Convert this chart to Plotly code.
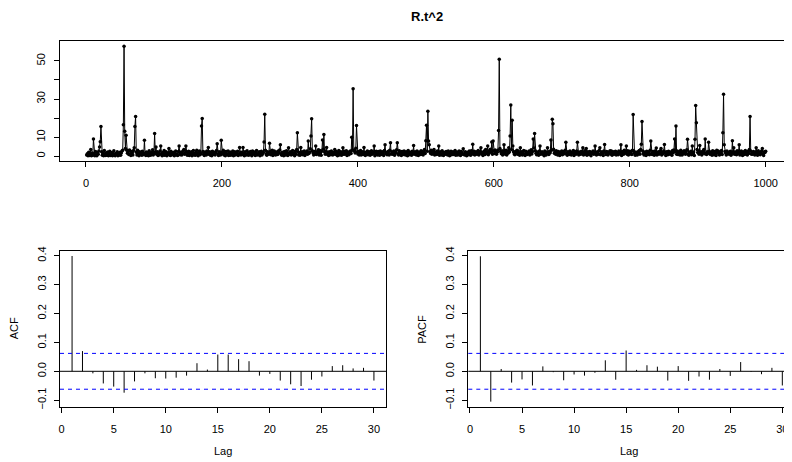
import plotly.graph_objects as go

# the page puts the figure 8px in from the top-left corner, so the figure is
# sized to fill the rest of the 792x462 window
OFF = 8
W, H = 792 - OFF, 462 - OFF

r2_001_100 = [0.5, 1.2, 0.1, 2.0, 0.3, 1.1, 3.5, 0.2, 1.6, 0.4,
              9.0, 1.3, 0.2, 2.4, 0.6, 0.1, 1.8, 0.9, 2.6, 4.8,
              7.5, 15.6, 2.2, 0.4, 1.5, 0.2, 2.9, 0.8, 0.3, 1.7,
              0.6, 2.1, 0.1, 1.0, 2.5, 0.3, 0.7, 1.9, 0.2, 1.2,
              2.8, 0.5, 0.1, 1.4, 0.9, 2.3, 0.2, 1.1, 0.6, 2.0,
              0.4, 1.6, 2.7, 3.0, 16.5, 57.8, 13.0, 4.0, 10.9, 3.0,
              1.5, 2.6, 0.8, 3.2, 1.1, 0.3, 2.4, 1.7, 0.5, 2.9,
              4.4, 15.6, 20.8, 2.0, 0.6, 3.1, 1.2, 0.2, 2.2, 0.9,
              1.8, 0.4, 2.5, 0.7, 1.3, 8.3, 1.0, 0.3, 2.1, 0.5,
              1.6, 0.2, 2.8, 1.1, 0.4, 1.9, 0.8, 3.3, 0.6, 2.0]
r2_101_200 = [11.8, 1.4, 4.8, 0.9, 2.3, 0.3, 1.5, 0.7, 2.6, 5.3,
              1.2, 0.2, 1.8, 0.6, 2.9, 0.4, 1.0, 2.2, 0.1, 1.6,
              0.8, 4.0, 1.3, 0.3, 2.5, 0.5, 1.7, 0.9, 2.0, 0.2,
              1.4, 2.7, 0.6, 1.1, 0.3, 2.4, 5.3, 1.8, 0.7, 2.1,
              0.5, 1.3, 2.8, 3.5, 0.9, 1.6, 5.3, 2.2, 0.4, 1.0,
              2.5, 0.3, 1.7, 0.8, 2.3, 0.1, 1.2, 2.9, 0.6, 1.5,
              0.4, 2.0, 3.1, 1.1, 0.2, 1.8, 2.6, 0.7, 1.4, 15.8,
              19.8, 2.4, 1.0, 0.3, 2.1, 1.5, 0.6, 2.7, 1.2, 4.5,
              0.9, 2.2, 0.4, 1.6, 0.1, 2.5, 0.8, 1.3, 2.0, 0.5,
              1.7, 2.9, 6.5, 1.1, 0.3, 2.3, 1.4, 0.6, 8.3, 2.0]
r2_201_300 = [1.2, 3.0, 0.5, 1.8, 0.2, 2.4, 1.0, 0.7, 2.6, 0.3,
              1.5, 2.1, 0.4, 1.9, 0.8, 2.7, 0.1, 1.3, 2.2, 0.6,
              1.6, 0.9, 2.5, 0.3, 1.1, 4.5, 1.7, 0.5, 2.0, 0.8,
              4.5, 1.4, 0.2, 2.3, 1.0, 0.6, 2.8, 1.2, 0.4, 1.9,
              0.7, 2.4, 1.3, 0.1, 2.6, 0.9, 1.5, 2.1, 0.3, 1.8,
              2.9, 0.5, 1.2, 0.8, 2.2, 0.2, 1.6, 2.5, 0.6, 1.4,
              2.0, 7.4, 22.0, 3.1, 1.1, 0.4, 2.3, 1.7, 0.9, 6.7,
              2.4, 0.7, 1.5, 3.0, 0.3, 1.9, 2.6, 1.0, 0.5, 2.1,
              1.3, 0.8, 2.7, 1.6, 3.2, 6.0, 1.1, 0.4, 2.0, 1.5,
              0.2, 2.4, 1.2, 0.6, 2.8, 1.7, 0.3, 4.4, 1.4, 0.9]
r2_301_400 = [2.2, 0.5, 1.6, 2.9, 0.8, 1.3, 0.2, 2.5, 1.0, 3.4,
              12.3, 2.1, 0.6, 1.8, 0.4, 4.5, 1.1, 2.3, 0.7, 1.5,
              2.7, 0.3, 1.9, 1.2, 2.6, 0.9, 7.9, 1.4, 2.0, 3.8,
              10.6, 19.6, 2.8, 1.6, 0.5, 2.4, 1.1, 5.3, 0.8, 2.2,
              1.3, 3.3, 0.6, 2.9, 1.7, 0.4, 2.5, 8.5, 3.6, 11.3,
              2.1, 1.0, 2.7, 4.5, 0.9, 1.9, 0.3, 2.3, 1.4, 0.7,
              2.6, 1.2, 0.5, 2.0, 1.6, 3.5, 0.8, 2.4, 1.1, 0.2,
              1.8, 2.9, 0.6, 1.3, 2.2, 0.4, 1.7, 4.4, 1.0, 2.5,
              0.9, 1.5, 2.8, 0.3, 1.2, 2.1, 0.7, 1.9, 2.6, 1.4,
              9.9, 3.2, 35.4, 2.7, 3.0, 1.6, 4.1, 16.1, 2.3, 1.1]
r2_401_500 = [2.4, 0.6, 1.8, 2.9, 0.5, 1.3, 2.2, 0.8, 4.5, 1.5,
              0.3, 2.0, 1.1, 2.6, 0.7, 1.7, 2.3, 0.4, 1.4, 2.8,
              0.9, 1.6, 2.1, 5.3, 0.2, 1.9, 2.5, 1.0, 0.6, 2.4,
              1.2, 0.4, 2.7, 1.5, 0.8, 2.2, 1.8, 0.3, 2.9, 6.0,
              1.3, 2.0, 0.7, 1.6, 2.5, 0.5, 3.1, 7.0, 1.1, 2.3,
              0.9, 1.7, 2.6, 0.4, 1.4, 2.1, 3.3, 7.0, 1.2, 0.6,
              2.8, 1.0, 1.9, 0.3, 2.4, 1.5, 0.8, 2.7, 1.3, 0.5,
              2.2, 1.6, 0.2, 2.9, 1.1, 0.7, 2.0, 1.8, 0.4, 2.5,
              1.4, 5.5, 0.9, 2.3, 1.2, 0.6, 2.6, 1.7, 0.3, 2.1,
              1.5, 0.8, 2.8, 1.0, 2.4, 0.5, 1.9, 3.4, 1.3, 8.0]
r2_501_600 = [16.2, 2.5, 23.6, 7.9, 6.0, 2.2, 1.4, 3.0, 0.9, 2.7,
              1.6, 3.5, 0.5, 2.1, 1.2, 0.8, 2.6, 1.8, 5.3, 0.4,
              2.3, 1.1, 0.6, 2.8, 1.5, 0.3, 2.0, 1.7, 0.9, 2.4,
              1.3, 0.5, 2.6, 1.0, 0.2, 1.9, 2.5, 0.7, 1.4, 2.2,
              0.8, 1.6, 2.9, 0.4, 1.2, 2.1, 0.6, 1.8, 2.7, 1.0,
              0.3, 2.4, 1.5, 0.9, 3.8, 1.1, 0.5, 2.3, 1.7, 0.2,
              2.0, 1.3, 0.7, 2.6, 1.4, 0.4, 2.8, 1.9, 6.2, 1.0,
              2.5, 0.6, 1.6, 2.2, 0.9, 1.2, 2.9, 0.5, 1.8, 2.4,
              4.4, 1.1, 2.0, 0.3, 1.5, 2.7, 0.8, 3.4, 1.3, 2.1,
              5.3, 0.7, 2.6, 1.9, 3.6, 2.2, 7.4, 1.0, 7.9, 2.8]
r2_601_700 = [1.4, 3.2, 2.5, 0.9, 2.0, 3.0, 13.5, 50.9, 4.0, 2.4,
              1.2, 2.8, 0.6, 1.7, 6.0, 2.3, 1.0, 3.1, 0.5, 2.6,
              1.5, 4.4, 2.1, 10.6, 26.9, 3.5, 18.8, 5.3, 2.2, 1.1,
              0.7, 2.4, 1.6, 3.0, 0.9, 2.7, 1.3, 0.4, 4.4, 1.8,
              2.2, 0.6, 1.4, 2.9, 1.0, 0.3, 2.5, 1.7, 0.8, 2.0,
              1.2, 2.6, 0.5, 1.9, 3.3, 1.1, 2.4, 9.0, 4.2, 11.8,
              2.8, 1.5, 0.7, 2.1, 1.3, 0.4, 2.6, 5.3, 1.0, 1.8,
              2.3, 0.9, 1.6, 0.2, 2.7, 1.2, 0.6, 2.0, 4.4, 1.4,
              0.8, 2.5, 1.7, 8.4, 3.1, 19.3, 17.0, 3.6, 1.5, 2.2,
              0.9, 2.8, 1.3, 0.5, 2.4, 1.6, 0.3, 2.1, 1.1, 2.6]
r2_701_800 = [0.7, 1.9, 2.4, 1.2, 3.0, 7.3, 1.5, 0.4, 2.2, 1.8,
              0.8, 2.6, 1.3, 0.6, 2.0, 1.6, 2.9, 0.3, 1.4, 2.3,
              1.0, 2.7, 7.3, 1.7, 0.5, 2.1, 1.2, 0.9, 2.5, 1.5,
              4.4, 0.6, 1.9, 2.8, 1.1, 4.0, 0.4, 2.2, 1.6, 0.8,
              2.4, 1.3, 0.2, 2.0, 1.7, 2.6, 0.9, 1.4, 5.3, 2.1,
              0.5, 1.8, 2.3, 1.0, 2.9, 4.4, 0.7, 1.5, 2.2, 1.2,
              0.3, 2.6, 6.1, 1.9, 0.8, 2.4, 1.3, 0.6, 2.1, 1.6,
              2.8, 1.1, 2.6, 0.4, 1.7, 2.3, 0.9, 1.4, 2.5, 0.5,
              1.8, 2.0, 0.7, 2.7, 1.2, 1.9, 6.0, 0.3, 2.4, 1.5,
              0.9, 3.0, 1.6, 2.2, 5.3, 1.0, 2.8, 0.6, 1.3, 2.5]
r2_801_900 = [1.1, 2.4, 0.8, 3.1, 21.9, 2.6, 1.5, 0.4, 2.0, 1.7,
              0.6, 2.3, 1.2, 2.9, 0.9, 3.4, 6.2, 18.2, 2.7, 1.4,
              0.5, 2.1, 1.8, 0.3, 2.5, 1.0, 1.6, 2.2, 0.7, 3.0,
              7.9, 1.3, 0.8, 2.4, 1.9, 0.4, 2.6, 1.1, 4.2, 0.6,
              1.7, 2.3, 0.9, 1.5, 2.8, 4.0, 0.5, 2.0, 1.2, 2.7,
              6.1, 1.6, 0.3, 2.2, 1.4, 0.7, 2.5, 1.8, 0.9, 2.1,
              1.3, 0.4, 2.9, 1.7, 3.2, 9.0, 2.4, 15.8, 1.0, 2.6,
              0.8, 1.5, 2.3, 0.5, 3.0, 1.9, 0.6, 2.2, 1.2, 2.8,
              1.6, 0.9, 2.4, 3.3, 8.8, 1.1, 0.4, 2.0, 1.7, 2.5,
              0.7, 5.3, 1.4, 2.1, 0.3, 8.8, 26.6, 17.5, 3.4, 1.8]
r2_901_1000 = [2.6, 1.0, 5.5, 1.3, 2.2, 0.6, 1.9, 2.7, 3.5, 1.2,
               9.0, 1.4, 0.8, 2.3, 1.6, 7.3, 2.5, 0.9, 1.7, 2.0,
               0.4, 2.8, 1.2, 0.7, 2.4, 1.5, 0.3, 3.0, 1.8, 2.6,
               1.1, 0.6, 2.2, 1.9, 2.9, 0.8, 12.2, 32.5, 6.0, 2.4,
               1.6, 0.5, 2.7, 1.3, 2.0, 0.9, 1.8, 2.5, 0.4, 1.4,
               8.1, 2.3, 4.4, 1.0, 2.1, 1.6, 0.7, 2.8, 1.2, 2.4,
               6.0, 0.6, 1.9, 2.6, 1.1, 0.3, 2.2, 1.5, 0.8, 2.9,
               1.7, 2.0, 0.5, 2.5, 1.3, 3.4, 20.8, 2.7, 1.0, 1.8,
               0.9, 2.4, 1.4, 0.6, 2.1, 4.4, 1.6, 0.4, 2.8, 1.2,
               2.0, 0.7, 1.5, 2.6, 4.0, 1.1, 0.3, 2.2, 1.8, 2.5]

r2 = (r2_001_100 + r2_101_200 + r2_201_300 + r2_301_400 + r2_401_500
      + r2_501_600 + r2_601_700 + r2_701_800 + r2_801_900 + r2_901_1000)
t = list(range(1, len(r2) + 1))

lags = list(range(1, 31))
acf_vals = [0.399, 0.070, -0.007, -0.042, -0.053, -0.074, -0.035, -0.007, -0.024, -0.025,
            -0.022, -0.015, 0.028, 0.006, 0.058, 0.058, 0.042, 0.035, -0.015, -0.009,
            -0.032, -0.045, -0.051, -0.029, -0.018, 0.018, 0.021, 0.010, 0.012, -0.032]
pacf_vals = [0.398, -0.105, 0.008, -0.039, -0.028, -0.049, 0.017, -0.003, -0.031, -0.011,
             -0.015, -0.005, 0.038, -0.029, 0.072, 0.005, 0.021, 0.016, -0.032, 0.018,
             -0.033, -0.018, -0.029, 0.008, -0.016, 0.032, -0.002, -0.010, 0.012, -0.049]
conf = 0.062

x_ticks_top = [0, 200, 400, 600, 800, 1000]
y_ticks_top = [0, 10, 20, 30, 40, 50]
y_labels_top = ['0', '10', '', '30', '', '50']
lag_ticks = [0, 5, 10, 15, 20, 25, 30]
cf_ticks = [-0.1, 0.0, 0.1, 0.2, 0.3, 0.4]
cf_labels = ['\u22120.1', '0.0', '0.1', '0.2', '0.3', '0.4']

FONT = 'Liberation Sans, Arial, sans-serif'


def fx(px):
    # window pixel column -> paper fraction
    return (px - OFF) / W


def fy(py):
    # window pixel row -> paper fraction
    return (H - (py - OFF)) / H


def stems(lags, vals):
    xs, ys = [], []
    for k, v in zip(lags, vals):
        xs += [k, k, None]
        ys += [0, v, None]
    return xs, ys


fig = go.Figure()

fig.add_trace(go.Scatter(
    x=t, y=r2, mode='lines+markers', xaxis='x', yaxis='y',
    line=dict(color='black', width=1),
    marker=dict(color='black', size=3.5, symbol='circle'),
    hoverinfo='skip'))

ax, ay = stems(lags, acf_vals)
fig.add_trace(go.Scatter(x=ax, y=ay, mode='lines', xaxis='x2', yaxis='y2',
                         line=dict(color='black', width=1), hoverinfo='skip'))
px_, py_ = stems(lags, pacf_vals)
fig.add_trace(go.Scatter(x=px_, y=py_, mode='lines', xaxis='x3', yaxis='y3',
                         line=dict(color='black', width=1), hoverinfo='skip'))

for xr, yr in (('x2', 'y2'), ('x3', 'y3')):
    fig.add_shape(type='line', xref=xr + ' domain', yref=yr, x0=0, x1=1, y0=0, y1=0,
                  line=dict(color='black', width=1))
    for c in (conf, -conf):
        fig.add_shape(type='line', xref=xr + ' domain', yref=yr, x0=0, x1=1, y0=c, y1=c,
                      line=dict(color='#0000ff', width=1, dash='4px,4px'))

common = dict(showgrid=False, zeroline=False, showline=True, linecolor='black',
              linewidth=1, ticks='outside', ticklen=5, tickcolor='black', tickwidth=1,
              automargin=False, ticklabeloverflow='allow',
              tickfont=dict(family=FONT, size=11, color='black'))

cf_y = [fy(407), fy(250.7)]
cf_range = [-0.1235, 0.4173]

fig.update_layout(
    width=W, height=H,
    margin=dict(l=0, r=0, t=0, b=0, autoexpand=False),
    paper_bgcolor='white', plot_bgcolor='white',
    showlegend=False,
    xaxis=dict(domain=[fx(59.5), 1], range=[-38.96, 1038.7], anchor='y',
               tickvals=x_ticks_top, mirror=True, ticklabelstandoff=7, **common),
    yaxis=dict(domain=[fy(160.7), fy(41.4)], range=[-2.45, 60.3], anchor='x',
               tickvals=y_ticks_top, ticktext=y_labels_top, tickangle=-90,
               ticklabelstandoff=4, **common),
    xaxis2=dict(domain=[fx(60), fx(386)], range=[-0.16, 31.16], anchor='y2',
                tickvals=lag_ticks, mirror=True, ticklabelstandoff=7, **common),
    yaxis2=dict(domain=cf_y, range=cf_range, anchor='x2',
                tickvals=cf_ticks, ticktext=cf_labels, tickangle=-90, mirror=True,
                ticklabelstandoff=4, **common),
    xaxis3=dict(domain=[fx(468.3), 1], range=[-0.16, 30.93], anchor='y3',
                tickvals=lag_ticks, mirror=True, ticklabelstandoff=7, **common),
    yaxis3=dict(domain=cf_y, range=cf_range, anchor='x3',
                tickvals=cf_ticks, ticktext=cf_labels, tickangle=-90,
                ticklabelstandoff=4, **common),
)

lab = dict(family=FONT, size=11, color='black')
ann = dict(xref='paper', yref='paper', showarrow=False, xanchor='center', yanchor='middle')
fig.add_annotation(text='<b>R.t^2</b>', x=fx(426.5), y=1, yanchor='top', borderpad=0,
                   xref='paper', yref='paper', showarrow=False, xanchor='center',
                   font=dict(family=FONT, size=13, color='black'))
fig.add_annotation(text='ACF', x=fx(13.5), y=fy(328.8), textangle=-90, font=lab, **ann)
fig.add_annotation(text='PACF', x=fx(422), y=fy(328.8), textangle=-90, font=lab, **ann)
fig.add_annotation(text='Lag', x=fx(223), y=fy(451), font=lab, **ann)
fig.add_annotation(text='Lag', x=fx(629), y=fy(451), font=lab, **ann)

fig.write_html("out.html")
